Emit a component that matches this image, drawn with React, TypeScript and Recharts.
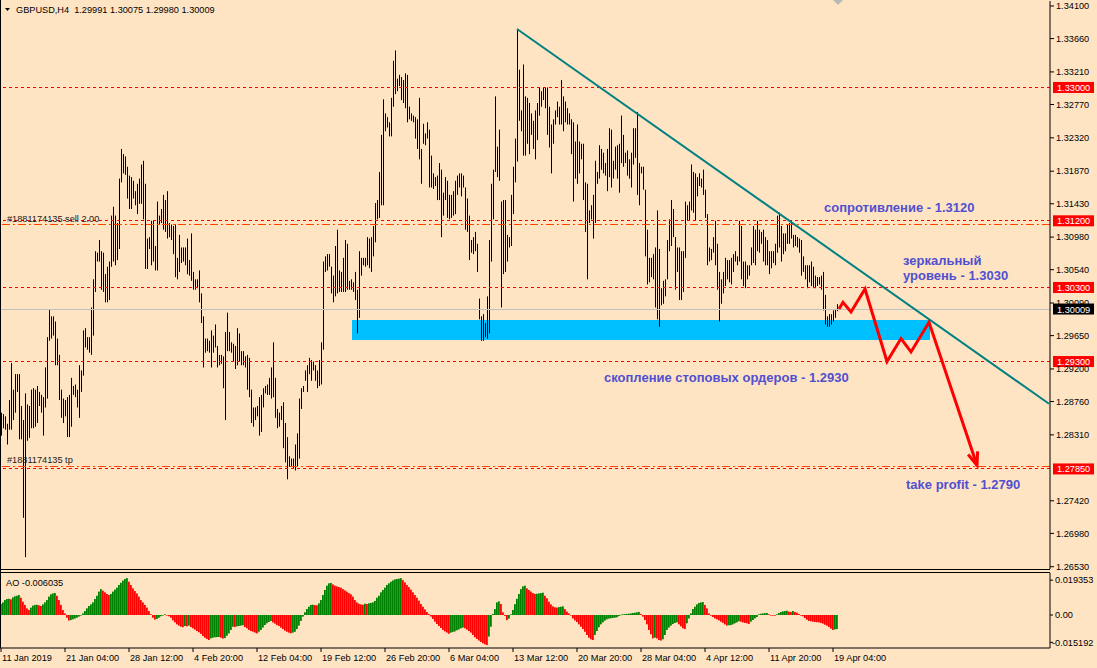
import React from "react";
import {
  ComposedChart,
  Bar,
  Line,
  XAxis,
  YAxis,
  ReferenceLine,
  ReferenceArea,
} from "recharts";

const FONT = '"Liberation Sans", Arial, sans-serif';
const BG = "#FFE4C4";
const NOTE_BLUE = "#5050D0";

// H4 bars (high / low)
const HIGH = [
  1.2861, 1.2859, 1.2856, 1.2846, 1.2878, 1.2928, 1.2892, 1.2913, 1.2913, 1.2913,
  1.2870, 1.2851, 1.2887, 1.2872, 1.2870, 1.2892, 1.2894, 1.2892, 1.2897, 1.2889,
  1.2885, 1.2882, 1.2922, 1.2963, 1.3000, 1.2991, 1.2991, 1.2984, 1.2961, 1.2939,
  1.2892, 1.2880, 1.2878, 1.2882, 1.2885, 1.2908, 1.2897, 1.2899, 1.2892, 1.2925,
  1.2918, 1.2972, 1.2975, 1.2963, 1.2963, 1.3003, 1.3041, 1.3079, 1.3077, 1.3094,
  1.3079, 1.3077, 1.3048, 1.3058, 1.3065, 1.3127, 1.3139, 1.3127, 1.3117, 1.3177,
  1.3217, 1.3210, 1.3207, 1.3193, 1.3181, 1.3179, 1.3174, 1.3160, 1.3170, 1.3177,
  1.3196, 1.3201, 1.3170, 1.3096, 1.3098, 1.3120, 1.3120, 1.3086, 1.3146, 1.3127,
  1.3136, 1.3155, 1.3148, 1.3160, 1.3117, 1.3115, 1.3113, 1.3115, 1.3070, 1.3101,
  1.3084, 1.3084, 1.3084, 1.3096, 1.3067, 1.3103, 1.3051, 1.3041, 1.3041, 1.3053,
  1.3022, 1.2991, 1.2961, 1.2961, 1.2958, 1.2972, 1.2965, 1.2980, 1.2951, 1.2939,
  1.2939, 1.2937, 1.2970, 1.2996, 1.2970, 1.2956, 1.2954, 1.2951, 1.2975, 1.2968,
  1.2944, 1.2944, 1.2937, 1.2939, 1.2935, 1.2892, 1.2868, 1.2868, 1.2870, 1.2882,
  1.2885, 1.2894, 1.2897, 1.2899, 1.2908, 1.2922, 1.2956, 1.2908, 1.2866, 1.2861,
  1.2870, 1.2875, 1.2847, 1.2828, 1.2802, 1.2799, 1.2799, 1.2818, 1.2833, 1.2880,
  1.2894, 1.2897, 1.2918, 1.2925, 1.2935, 1.2932, 1.2930, 1.2925, 1.2918, 1.2932,
  1.2956, 1.3065, 1.3072, 1.3075, 1.3075, 1.3058, 1.3046, 1.3086, 1.3108, 1.3053,
  1.3051, 1.3070, 1.3094, 1.3089, 1.3039, 1.3041, 1.3037, 1.3051, 1.3027, 1.3079,
  1.3070, 1.3070, 1.3070, 1.3098, 1.3096, 1.3098, 1.3113, 1.3144, 1.3148, 1.3186,
  1.3236, 1.3284, 1.3265, 1.3260, 1.3253, 1.3286, 1.3336, 1.3350, 1.3312, 1.3317,
  1.3314, 1.3310, 1.3319, 1.3317, 1.3274, 1.3265, 1.3262, 1.3260, 1.3257, 1.3286,
  1.3217, 1.3251, 1.3238, 1.3253, 1.3243, 1.3208, 1.3184, 1.3179, 1.3181, 1.3198,
  1.3189, 1.3158, 1.3179, 1.3174, 1.3155, 1.3155, 1.3160, 1.3174, 1.3181, 1.3184,
  1.3184, 1.3181, 1.3165, 1.3150, 1.3127, 1.3094, 1.3098, 1.3105, 1.3089, 1.3015,
  1.2991, 1.2994, 1.2982, 1.3018, 1.3094, 1.3170, 1.3189, 1.3288, 1.3220, 1.3243,
  1.3146, 1.3148, 1.3148, 1.3101, 1.3098, 1.3155, 1.3193, 1.3231, 1.3379, 1.3324,
  1.3269, 1.3331, 1.3288, 1.3286, 1.3279, 1.3265, 1.3255, 1.3269, 1.3279, 1.3300,
  1.3295, 1.3300, 1.3300, 1.3300, 1.3274, 1.3250, 1.3257, 1.3269, 1.3281, 1.3274,
  1.3310, 1.3288, 1.3281, 1.3272, 1.3265, 1.3257, 1.3253, 1.3227, 1.3250, 1.3227,
  1.3224, 1.3224, 1.3172, 1.3170, 1.3134, 1.3141, 1.3155, 1.3201, 1.3186, 1.3222,
  1.3217, 1.3212, 1.3198, 1.3217, 1.3245, 1.3243, 1.3201, 1.3220, 1.3222, 1.3224,
  1.3262, 1.3236, 1.3212, 1.3215, 1.3203, 1.3212, 1.3245, 1.3245, 1.3267, 1.3198,
  1.3193, 1.3193, 1.3162, 1.3108, 1.3070, 1.3070, 1.3075, 1.3084, 1.3134, 1.3082,
  1.3029, 1.3039, 1.3041, 1.3094, 1.3122, 1.3148, 1.3136, 1.3098, 1.3084, 1.3084,
  1.3079, 1.3079, 1.3146, 1.3141, 1.3146, 1.3196, 1.3186, 1.3184, 1.3179, 1.3184,
  1.3177, 1.3189, 1.3162, 1.3129, 1.3084, 1.3082, 1.3098, 1.3120, 1.3089, 1.3051,
  1.3041, 1.3051, 1.3070, 1.3067, 1.3067, 1.3070, 1.3075, 1.3079, 1.3072, 1.3120,
  1.3113, 1.3065, 1.3065, 1.3060, 1.3060, 1.3084, 1.3113, 1.3108, 1.3120, 1.3108,
  1.3105, 1.3108, 1.3098, 1.3094, 1.3079, 1.3079, 1.3079, 1.3089, 1.3127, 1.3131,
  1.3113, 1.3103, 1.3103, 1.3115, 1.3117, 1.3120, 1.3101, 1.3101, 1.3098, 1.3096,
  1.3094, 1.3072, 1.3060, 1.3060, 1.3060, 1.3065, 1.3058, 1.3046, 1.3044, 1.3044,
  1.3046, 1.3051, 1.3020, 1.2991, 1.2994, 1.2994, 1.2999, 1.3001, 1.30075,
];

const LOW = [
  1.2830, 1.2840, 1.2838, 1.2818, 1.2838, 1.2838, 1.2851, 1.2861, 1.2889, 1.2825,
  1.2825, 1.2719, 1.2666, 1.2823, 1.2827, 1.2840, 1.2840, 1.2842, 1.2847, 1.2870,
  1.2861, 1.2830, 1.2868, 1.2880, 1.2958, 1.2961, 1.2965, 1.2925, 1.2925, 1.2878,
  1.2854, 1.2847, 1.2856, 1.2828, 1.2828, 1.2842, 1.2885, 1.2882, 1.2868, 1.2854,
  1.2889, 1.2911, 1.2949, 1.2946, 1.2942, 1.2939, 1.2965, 1.3024, 1.3065, 1.3065,
  1.3027, 1.3024, 1.3010, 1.3010, 1.3013, 1.3058, 1.3065, 1.3060, 1.3067, 1.3082,
  1.3172, 1.3184, 1.3182, 1.3150, 1.3136, 1.3136, 1.3150, 1.3141, 1.3129, 1.3143,
  1.3143, 1.3122, 1.3055, 1.3055, 1.3082, 1.3060, 1.3065, 1.3053, 1.3053, 1.3115,
  1.3117, 1.3108, 1.3105, 1.3096, 1.3098, 1.3094, 1.3075, 1.3044, 1.3041, 1.3051,
  1.3063, 1.3065, 1.3060, 1.3048, 1.3046, 1.3039, 1.3027, 1.3027, 1.3029, 1.3010,
  1.2982, 1.2922, 1.2942, 1.2944, 1.2942, 1.2922, 1.2942, 1.2949, 1.2922, 1.2925,
  1.2927, 1.2894, 1.2851, 1.2944, 1.2944, 1.2942, 1.2930, 1.2920, 1.2925, 1.2930,
  1.2925, 1.2925, 1.2922, 1.2892, 1.2882, 1.2847, 1.2842, 1.2851, 1.2856, 1.2830,
  1.2835, 1.2868, 1.2887, 1.2885, 1.2885, 1.2880, 1.2882, 1.2854, 1.2840, 1.2842,
  1.2851, 1.2813, 1.2794, 1.2771, 1.2788, 1.2788, 1.2785, 1.2783, 1.2788, 1.2799,
  1.2866, 1.2889, 1.2904, 1.2889, 1.2913, 1.2904, 1.2918, 1.2904, 1.2894, 1.2897,
  1.2899, 1.2946, 1.3051, 1.3053, 1.3058, 1.3022, 1.3010, 1.3018, 1.3022, 1.3024,
  1.3024, 1.3024, 1.3024, 1.3027, 1.3027, 1.3027, 1.3024, 1.3013, 1.2968, 1.2989,
  1.3046, 1.3060, 1.3058, 1.3060, 1.3056, 1.3051, 1.3072, 1.3091, 1.3122, 1.3124,
  1.3141, 1.3141, 1.3241, 1.3246, 1.3234, 1.3234, 1.3274, 1.3291, 1.3295, 1.3302,
  1.3283, 1.3279, 1.3272, 1.3253, 1.3257, 1.3255, 1.3253, 1.3231, 1.3217, 1.3203,
  1.3170, 1.3224, 1.3222, 1.3231, 1.3165, 1.3165, 1.3163, 1.3167, 1.3148, 1.3148,
  1.3098, 1.3127, 1.3148, 1.3124, 1.3122, 1.3124, 1.3127, 1.3129, 1.3155, 1.3165,
  1.3153, 1.3165, 1.3108, 1.3105, 1.3067, 1.3077, 1.3075, 1.3079, 1.3051, 1.2987,
  1.2958, 1.2958, 1.2963, 1.2961, 1.2968, 1.3065, 1.3122, 1.3186, 1.3179, 1.3174,
  1.3003, 1.3048, 1.3051, 1.3065, 1.3084, 1.3086, 1.3129, 1.3172, 1.3200, 1.3255,
  1.3241, 1.3208, 1.3208, 1.3224, 1.3210, 1.3236, 1.3217, 1.3203, 1.3229, 1.3262,
  1.3274, 1.3283, 1.3272, 1.3236, 1.3219, 1.3184, 1.3224, 1.3250, 1.3260, 1.3250,
  1.3250, 1.3241, 1.3253, 1.3250, 1.3250, 1.3210, 1.3146, 1.3177, 1.3170, 1.3184,
  1.3203, 1.3148, 1.3105, 1.3041, 1.3117, 1.3122, 1.3096, 1.3117, 1.3170, 1.3177,
  1.3189, 1.3184, 1.3181, 1.3160, 1.3179, 1.3165, 1.3177, 1.3189, 1.3177, 1.3158,
  1.3198, 1.3193, 1.3198, 1.3181, 1.3177, 1.3165, 1.3196, 1.3205, 1.3155, 1.3141,
  1.3184, 1.3162, 1.3072, 1.3034, 1.3037, 1.3044, 1.3041, 1.3003, 1.2987, 1.2977,
  1.3006, 1.3008, 1.3018, 1.3041, 1.3079, 1.3086, 1.3098, 1.3027, 1.3051, 1.3013,
  1.3013, 1.3024, 1.3070, 1.3120, 1.3120, 1.3134, 1.3131, 1.3120, 1.3153, 1.3167,
  1.3165, 1.3155, 1.3124, 1.3060, 1.3065, 1.3067, 1.3077, 1.3060, 1.3027, 1.2984,
  1.3008, 1.3022, 1.3032, 1.3041, 1.3037, 1.3034, 1.3051, 1.3065, 1.3060, 1.3065,
  1.3041, 1.3032, 1.3029, 1.3041, 1.3046, 1.3060, 1.3063, 1.3060, 1.3079, 1.3077,
  1.3089, 1.3065, 1.3060, 1.3060, 1.3048, 1.3056, 1.3063, 1.3060, 1.3077, 1.3084,
  1.3065, 1.3075, 1.3079, 1.3089, 1.3089, 1.3096, 1.3084, 1.3086, 1.3084, 1.3077,
  1.3046, 1.3051, 1.3041, 1.3029, 1.3037, 1.3032, 1.3029, 1.3029, 1.3032, 1.3034,
  1.3027, 1.2999, 1.2980, 1.2977, 1.2977, 1.2980, 1.2984, 1.2989, 1.2998,
];

// Awesome Oscillator, one value per bar
const AO = [
  0.0061, 0.0070, 0.0083, 0.0089, 0.0090, 0.0087, 0.0098, 0.0104, 0.0107, 0.0111,
  0.0096, 0.0074, 0.0056, 0.0037, 0.0028, 0.0041, 0.0052, 0.0056, 0.0057, 0.0054,
  0.0050, 0.0059, 0.0070, 0.0083, 0.0102, 0.0115, 0.0120, 0.0122, 0.0107, 0.0083,
  0.0056, 0.0028, 0.0009, -0.0015, -0.0031, -0.0028, -0.0024, -0.0020, -0.0015, -0.0009,
  0.0000, 0.0009, 0.0022, 0.0037, 0.0050, 0.0059, 0.0070, 0.0089, 0.0107, 0.0130,
  0.0144, 0.0135, 0.0126, 0.0117, 0.0111, 0.0117, 0.0130, 0.0141, 0.0152, 0.0167,
  0.0179, 0.0191, 0.0200, 0.0205, 0.0185, 0.0167, 0.0148, 0.0133, 0.0120, 0.0102,
  0.0083, 0.0070, 0.0056, 0.0041, 0.0022, 0.0004, -0.0015, -0.0026, -0.0022, -0.0015,
  -0.0007, -0.0002, 0.0004, 0.0000, -0.0007, -0.0015, -0.0030, -0.0041, -0.0052, -0.0059,
  -0.0065, -0.0068, -0.0061, -0.0063, -0.0059, -0.0067, -0.0074, -0.0081, -0.0089, -0.0096,
  -0.0105, -0.0117, -0.0126, -0.0133, -0.0139, -0.0130, -0.0126, -0.0124, -0.0123, -0.0122,
  -0.0126, -0.0131, -0.0128, -0.0115, -0.0102, -0.0083, -0.0065, -0.0067, -0.0063, -0.0061,
  -0.0059, -0.0057, -0.0067, -0.0074, -0.0083, -0.0089, -0.0093, -0.0098, -0.0102, -0.0093,
  -0.0083, -0.0070, -0.0056, -0.0046, -0.0039, -0.0033, -0.0041, -0.0048, -0.0056, -0.0061,
  -0.0070, -0.0078, -0.0087, -0.0093, -0.0098, -0.0102, -0.0098, -0.0093, -0.0078, -0.0059,
  -0.0033, -0.0009, 0.0015, 0.0033, 0.0046, 0.0056, 0.0057, 0.0055, 0.0054, 0.0065,
  0.0083, 0.0111, 0.0139, 0.0163, 0.0176, 0.0178, 0.0170, 0.0163, 0.0159, 0.0155,
  0.0152, 0.0144, 0.0137, 0.0130, 0.0122, 0.0115, 0.0102, 0.0083, 0.0070, 0.0063,
  0.0059, 0.0057, 0.0063, 0.0061, 0.0065, 0.0067, 0.0070, 0.0078, 0.0096, 0.0107,
  0.0126, 0.0139, 0.0152, 0.0167, 0.0176, 0.0185, 0.0192, 0.0198, 0.0200, 0.0202,
  0.0205, 0.0194, 0.0181, 0.0167, 0.0155, 0.0141, 0.0126, 0.0111, 0.0096, 0.0080,
  0.0061, 0.0046, 0.0031, 0.0017, 0.0006, -0.0009, -0.0022, -0.0037, -0.0050, -0.0061,
  -0.0072, -0.0083, -0.0091, -0.0098, -0.0104, -0.0098, -0.0094, -0.0091, -0.0085, -0.0080,
  -0.0074, -0.0070, -0.0074, -0.0081, -0.0089, -0.0098, -0.0111, -0.0124, -0.0133, -0.0142,
  -0.0150, -0.0157, -0.0163, -0.0167, -0.0120, -0.0065, 0.0006, 0.0033, 0.0070, 0.0076,
  0.0061, 0.0015, -0.0005, -0.0028, -0.0020, 0.0004, 0.0028, 0.0060, 0.0090, 0.0117,
  0.0144, 0.0159, 0.0163, 0.0148, 0.0139, 0.0130, 0.0122, 0.0117, 0.0118, 0.0120,
  0.0122, 0.0124, 0.0107, 0.0093, 0.0074, 0.0059, 0.0048, 0.0043, 0.0041, 0.0044,
  0.0046, 0.0048, 0.0033, 0.0019, 0.0009, 0.0000, -0.0019, -0.0030, -0.0039, -0.0052,
  -0.0065, -0.0078, -0.0093, -0.0111, -0.0126, -0.0135, -0.0139, -0.0111, -0.0089, -0.0068,
  -0.0052, -0.0041, -0.0031, -0.0024, -0.0020, -0.0018, -0.0016, -0.0015, -0.0013, -0.0006,
  0.0002, 0.0004, 0.0005, 0.0006, 0.0007, 0.0009, 0.0011, 0.0013, 0.0015, 0.0017,
  0.0006, -0.0009, -0.0028, -0.0052, -0.0083, -0.0107, -0.0130, -0.0126, -0.0130, -0.0139,
  -0.0142, -0.0135, -0.0111, -0.0083, -0.0070, -0.0059, -0.0050, -0.0044, -0.0041, -0.0052,
  -0.0063, -0.0074, -0.0078, -0.0046, -0.0019, 0.0009, 0.0033, 0.0046, 0.0059, 0.0067,
  0.0070, 0.0072, 0.0056, 0.0037, 0.0009, -0.0004, -0.0011, -0.0019, -0.0024, -0.0030,
  -0.0037, -0.0044, -0.0052, -0.0059, -0.0057, -0.0056, -0.0052, -0.0046, -0.0041, -0.0035,
  -0.0037, -0.0041, -0.0044, -0.0046, -0.0050, -0.0037, -0.0028, -0.0019, -0.0011, 0.0004,
  0.0007, 0.0009, 0.0010, 0.0011, 0.0004, 0.0000, -0.0002, -0.0004, 0.0004, 0.0011,
  0.0017, 0.0020, 0.0022, 0.0024, 0.0019, 0.0017, 0.0022, 0.0017, 0.0013, 0.0006,
  0.0000, -0.0007, -0.0017, -0.0026, -0.0033, -0.0035, -0.0037, -0.0039, -0.0040, -0.0041,
  -0.0044, -0.0048, -0.0054, -0.0059, -0.0067, -0.0076, -0.0083, -0.0080, -0.0078,
];

const DATE_LABELS = [
  "11 Jan 2019", "21 Jan 04:00", "28 Jan 12:00", "4 Feb 20:00", "12 Feb 04:00",
  "19 Feb 12:00", "26 Feb 20:00", "6 Mar 04:00", "13 Mar 12:00", "20 Mar 20:00",
  "28 Mar 04:00", "4 Apr 12:00", "11 Apr 20:00", "19 Apr 04:00",
];
const BARS_PER_LABEL = 32;
const SLOTS = 525; // bars + empty shift area on the right

// 1.27870 sits under the 1.27850 tag in the original, so it is left out
const PRICE_TICKS = [
  1.341, 1.3366, 1.3321, 1.3277, 1.3232, 1.3187, 1.3143, 1.3098, 1.3054,
  1.3009, 1.2965, 1.292, 1.2876, 1.2831, 1.2742, 1.2698, 1.2653,
];
const AO_TICKS = [0.019353, 0, -0.015192];

const LEVELS = [1.33, 1.312, 1.303, 1.293, 1.2785];
const ORDER_SELL = 1.31153;
const ORDER_TP = 1.2788;
const LAST_PRICE = 1.30009;

const TREND_FROM = { bar: 258, price: 1.3379 };
const TREND_TO = { bar: 524, price: 1.2873 };
const ZONE = { from: 176, to: 464, low: 1.2959, high: 1.2986 };

const FORECAST_BARS = [419, 421, 425, 432, 443, 450, 455, 464, 488];
const FORECAST_PRICES = [1.3001, 1.301, 1.2997, 1.3028, 1.293, 1.2961, 1.2943, 1.2983, 1.279];

const rows = Array.from({ length: SLOTS }, (_, i) => {
  const has = i < HIGH.length;
  const f = FORECAST_BARS.indexOf(i);
  return {
    i,
    hl: has ? [LOW[i], HIGH[i]] : null,
    ao: has ? AO[i] : null,
    up: has ? i === 0 || AO[i] > AO[i - 1] : false,
    path: f >= 0 ? FORECAST_PRICES[f] : null,
    tip: f === FORECAST_BARS.length - 1,
  };
});

function PriceBar(props: any) {
  const { x, y, width, height, payload } = props;
  if (!payload || !payload.hl) return null;
  const top = Math.min(y, y + height);
  const h = Math.max(1, Math.abs(height));
  return <rect x={Math.floor(x + width / 2)} y={top} width={1} height={h} fill="#000" />;
}

function AoBar(props: any) {
  const { x, y, width, height, payload } = props;
  if (!payload || payload.ao == null) return null;
  const top = Math.min(y, y + height);
  return (
    <rect
      x={x}
      y={top}
      width={width}
      height={Math.max(0.6, Math.abs(height))}
      fill={payload.up ? "#008000" : "#FF0000"}
    />
  );
}

function ArrowDot(props: any) {
  const { cx, cy, payload, points, index } = props;
  if (cx == null || cy == null || !payload || !payload.tip) return null;
  let px = cx - 17;
  let py = cy - 49;
  if (Array.isArray(points)) {
    for (let k = index - 1; k >= 0; k--) {
      const p = points[k];
      if (p && p.y != null && p.value != null) {
        px = p.x;
        py = p.y;
        break;
      }
    }
  }
  const len = Math.hypot(cx - px, cy - py) || 1;
  const ux = (cx - px) / len;
  const uy = (cy - py) / len;
  const bx = cx - ux * 13;
  const by = cy - uy * 13;
  return (
    <path
      d={`M${bx - uy * 5},${by + ux * 5} L${cx},${cy} L${bx + uy * 5},${by - ux * 5}`}
      stroke="#FF0000"
      strokeWidth={3}
      fill="none"
    />
  );
}

function priceTag(text: string, bg: string) {
  return (p: any) => {
    const vb = p.viewBox || {};
    const x = (vb.x || 0) + (vb.width || 0) + 3;
    const y = vb.y || 0;
    return (
      <g>
        <rect x={x} y={y - 5.5} width={41} height={11} fill={bg} />
        <text x={x + 4} y={y + 3.5} fill="#FFF" fontSize={9.2} fontFamily={FONT}>
          {text}
        </text>
      </g>
    );
  };
}

function orderLabel(text: string, lift: number) {
  return (p: any) => {
    const vb = p.viewBox || {};
    return (
      <text x={(vb.x || 0) + 7} y={(vb.y || 0) - lift} fill="#1A1A1A" fontSize={9.2} fontFamily={FONT}>
        {text}
      </text>
    );
  };
}

function DateTick(props: any) {
  const { x, y, payload } = props;
  const n = payload.value / BARS_PER_LABEL;
  const label = Number.isInteger(n) ? DATE_LABELS[n] : undefined;
  if (!label) return null;
  return (
    <g>
      <line x1={x} x2={x} y1={y} y2={y + 4} stroke="#000" />
      <text x={x + 1} y={y + 13} fontSize={9.2} fill="#000" fontFamily={FONT}>
        {label}
      </text>
    </g>
  );
}

function AoTick(props: any) {
  const { x, y, payload } = props;
  const v = payload.value;
  const text = v === 0 ? "0.00" : v.toFixed(6);
  return (
    <text x={v < 0 ? x - 3 : x} y={y + 3.3} fontSize={9.2} fill="#000" fontFamily={FONT}>
      {text}
    </text>
  );
}

export default function App() {
  const notes = { fontFamily: FONT, fontSize: 13, fontWeight: 700, fill: NOTE_BLUE };
  return (
    <div
      style={{
        position: "absolute",
        left: 0,
        top: 0,
        width: 1097,
        height: 668,
        background: BG,
        overflow: "hidden",
        fontFamily: FONT,
      }}
    >
      {/* price panel */}
      <div style={{ position: "absolute", left: 0, top: 0 }}>
        <ComposedChart
          width={1097}
          height={572}
          data={rows}
          margin={{ top: 1, right: 0, bottom: 3, left: 0 }}
          barCategoryGap={0}
          barGap={0}
        >
          <XAxis dataKey="i" hide />
          <YAxis
            orientation="right"
            width={47}
            domain={[1.264991, 1.341675]}
            allowDataOverflow
            ticks={PRICE_TICKS}
            interval={0}
            tickFormatter={(v: number) => v.toFixed(5)}
            tick={{ fill: "#000", fontSize: 9.2, fontFamily: FONT }}
            tickSize={4}
            tickMargin={2}
            axisLine={{ stroke: "#000" }}
            tickLine={{ stroke: "#000" }}
          />
          <ReferenceArea
            x1={ZONE.from}
            x2={ZONE.to}
            y1={ZONE.low}
            y2={ZONE.high}
            fill="#00BFFF"
            fillOpacity={1}
            stroke="none"
          />
          <ReferenceLine
            y={LAST_PRICE}
            stroke="#C0C0C0"
            shapeRendering="crispEdges"
            label={priceTag("1.30009", "#000")}
          />
          {LEVELS.map((lv) => (
            <ReferenceLine
              key={lv}
              y={lv}
              stroke="#FF0000"
              strokeDasharray="3 3"
              shapeRendering="crispEdges"
              label={priceTag(lv.toFixed(5), "#FF0000")}
            />
          ))}
          <ReferenceLine
            y={ORDER_SELL}
            stroke="#FF4500"
            strokeDasharray="8 3 2 3"
            shapeRendering="crispEdges"
            label={orderLabel("#1881174135 sell 2.00", 2.5)}
          />
          <ReferenceLine
            y={ORDER_TP}
            stroke="#FF4500"
            strokeDasharray="8 3 2 3"
            shapeRendering="crispEdges"
            label={orderLabel("#1881174135 tp", 3.5)}
          />
          <Bar dataKey="hl" barSize={1} shape={PriceBar} isAnimationActive={false} />
          <ReferenceLine
            segment={[
              { x: TREND_FROM.bar, y: TREND_FROM.price },
              { x: TREND_TO.bar, y: TREND_TO.price },
            ]}
            stroke="#008080"
            strokeWidth={2}
          />
          <Line
            dataKey="path"
            type="linear"
            stroke="#FF0000"
            strokeWidth={3}
            strokeLinejoin="miter"
            connectNulls
            dot={ArrowDot}
            activeDot={false}
            isAnimationActive={false}
          />
        </ComposedChart>
      </div>

      {/* AO panel */}
      <div style={{ position: "absolute", left: 0, top: 573 }}>
        <ComposedChart
          width={1097}
          height={95}
          data={rows}
          margin={{ top: 0, right: 0, bottom: 0, left: 0 }}
          barCategoryGap={0}
          barGap={0}
        >
          <XAxis
            dataKey="i"
            height={20}
            interval={BARS_PER_LABEL - 1}
            tick={DateTick}
            tickLine={false}
            tickSize={0}
            tickMargin={0}
            axisLine={{ stroke: "#000" }}
          />
          <YAxis
            orientation="right"
            width={47}
            domain={[-0.01833, 0.02333]}
            allowDataOverflow
            ticks={AO_TICKS}
            interval={0}
            tick={AoTick}
            tickSize={3}
            tickMargin={2}
            axisLine={{ stroke: "#000" }}
            tickLine={{ stroke: "#000" }}
          />
          <Bar dataKey="ao" barSize={2} shape={AoBar} isAnimationActive={false} />
        </ComposedChart>
      </div>

      {/* frame, titles and notes */}
      <svg
        width={1097}
        height={668}
        style={{ position: "absolute", left: 0, top: 0, pointerEvents: "none" }}
      >
        <line x1={0.5} y1={0} x2={0.5} y2={648} stroke="#000" />
        <line x1={0} y1={569.5} x2={1050} y2={569.5} stroke="#000" />
        <line x1={0} y1={572.5} x2={1050} y2={572.5} stroke="#000" />
        <polygon points="833,0 843,0 838,5" fill="#B8B8B8" />
        <polygon points="5,8 10,8 7.5,11" fill="#000" />
        <text x={16} y={13} fontSize={9.2} fill="#000" fontFamily={FONT} style={{ whiteSpace: "pre" }}>
          {"GBPUSD,H4  1.29991 1.30075 1.29980 1.30009"}
        </text>
        <text x={6} y={586} fontSize={9.2} fill="#000" fontFamily={FONT}>
          AO -0.006035
        </text>
        <text x={824} y={212} {...notes}>сопротивление - 1.3120</text>
        <text x={903} y={265} {...notes}>зеркальный</text>
        <text x={903} y={280} {...notes}>уровень - 1.3030</text>
        <text x={604} y={382} {...notes}>скопление стоповых ордеров - 1.2930</text>
        <text x={906} y={489} {...notes}>take profit - 1.2790</text>
      </svg>
    </div>
  );
}
